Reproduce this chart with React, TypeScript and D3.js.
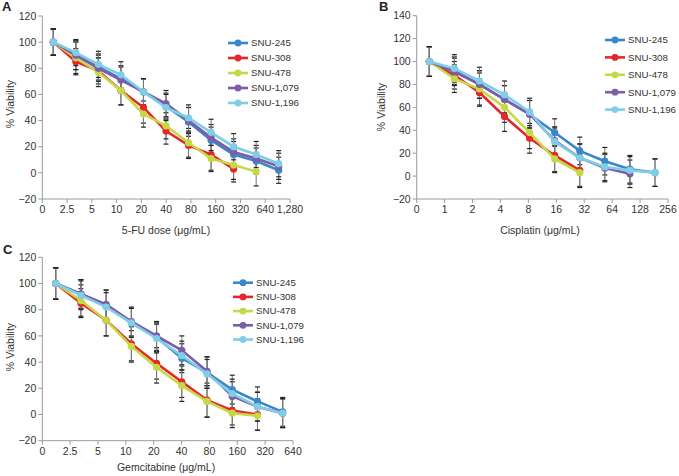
import React from "react";
import * as d3 from "d3";

// ---------- data ----------
const seriesNames = ["SNU-245", "SNU-308", "SNU-478", "SNU-1,079", "SNU-1,196"];
const seriesColors = ["#3b86c6", "#e5272b", "#c6d845", "#7b5ea7", "#7fcde8"];

const xTicksA = ["0", "2.5", "5", "10", "20", "40", "80", "160", "320", "640", "1,280"];
const xTicksB = ["0", "1", "2", "4", "8", "16", "32", "64", "128", "256"];
const xTicksC = ["0", "2.5", "5", "10", "20", "40", "80", "160", "320", "640"];

const yTicksA = [-20, 0, 20, 40, 60, 80, 100, 120];
const yTicksB = [-20, 0, 20, 40, 60, 80, 100, 120, 140];
const yTicksC = [-20, 0, 20, 40, 60, 80, 100, 120];

// Panel A: 5-FU
const A245 = [100, 90, 81, 72, 62, 51, 39, 25, 14, 9, 2];
const A308 = [100, 85, 78, 63, 50, 32, 21, 14, 3];
const A478 = [100, 88, 77, 63, 45, 36, 23, 11, 6, 1];
const A1079 = [100, 90, 80, 71, 62, 53, 40, 27, 16, 11, 5];
const A1196 = [100, 92, 83, 75, 62, 50, 42, 31, 20, 14, 7];
const A245e = [10, 11, 10, 10, 10, 10, 11, 10, 10, 10, 10];
const A308e = [10, 10, 10, 11, 12, 10, 10, 12, 10];
const A478e = [10, 12, 11, 11, 10, 10, 11, 10, 11, 11];
const A1079e = [10, 11, 10, 10, 10, 10, 10, 10, 10, 10, 10];
const A1196e = [10, 10, 10, 10, 10, 10, 10, 10, 10, 10, 10];

// Panel B: Cisplatin
const B245 = [100, 92, 80, 67, 54, 38, 22, 13, 6, 3];
const B308 = [100, 88, 73, 52, 33, 18, 5];
const B478 = [100, 85, 76, 60, 38, 15, 3];
const B1079 = [100, 91, 80, 67, 54, 31, 16, 7, 2];
const B1196 = [100, 94, 83, 71, 56, 30, 16, 8, 5, 3];
const B245e = [13, 12, 12, 12, 12, 12, 12, 12, 12, 12];
const B308e = [13, 12, 12, 13, 13, 14, 14];
const B478e = [13, 12, 14, 13, 14, 12, 13];
const B1079e = [13, 12, 12, 12, 12, 12, 12, 12, 12];
const B1196e = [13, 12, 12, 12, 12, 12, 12, 12, 12, 12];

// Panel C: Gemcitabine
const C245 = [100, 92, 83, 70, 59, 43, 32, 19, 10, 2];
const C308 = [100, 85, 72, 54, 39, 25, 11, 3, 0];
const C478 = [100, 87, 72, 52, 36, 22, 10, 1, -1];
const C1079 = [100, 92, 84, 71, 60, 49, 33, 14, 6, 1];
const C1196 = [100, 91, 82, 70, 58, 45, 31, 16, 6, 1];
const C245e = [12, 11, 12, 11, 11, 11, 12, 11, 11, 11];
const C308e = [12, 11, 12, 13, 12, 12, 13, 11, 12];
const C478e = [12, 12, 12, 12, 12, 12, 12, 11, 11];
const C1079e = [12, 11, 11, 11, 11, 11, 11, 11, 11, 11];
const C1196e = [12, 11, 11, 11, 11, 11, 11, 11, 11, 11];

// ---------- layout ----------
type PanelCfg = {
  letter: string;
  letterX: number;
  letterY: number;
  xTicks: string[];
  yTicks: number[];
  tickRange: [number, number];
  dataRange: [number, number];
  yPx: [number, number]; // px of [yMin, yMax]
  title: string;
  titleX: number;
  titleY: number;
  yTitleX: number;
  yTitleY: number;
  legendX: number;
  legendY: number;
  legendStep: number;
  nPoints: number;
  values: number[][];
  errors: number[][];
};

const FONT = "'Liberation Sans', Arial, Helvetica, sans-serif";
const AXIS = "#9a9a9a";
const FS = 10.5;
const LFS = 9.7;

const panels: PanelCfg[] = [
  {
    letter: "A", letterX: 2, letterY: 11,
    xTicks: xTicksA, yTicks: yTicksA,
    tickRange: [42.3, 290], dataRange: [53.3, 278.7], yPx: [199, 16],
    title: "5-FU dose (\u03bcg/mL)", titleX: 166, titleY: 234,
    yTitleX: 14, yTitleY: 104,
    legendX: 228, legendY: 43, legendStep: 15,
    nPoints: 11,
    values: [A245, A308, A478, A1079, A1196],
    errors: [A245e, A308e, A478e, A1079e, A1196e],
  },
  {
    letter: "B", letterX: 379, letterY: 11,
    xTicks: xTicksB, yTicks: yTicksB,
    tickRange: [416.7, 668], dataRange: [429.3, 655], yPx: [199, 15.7],
    title: "Cisplatin (\u03bcg/mL)", titleX: 540, titleY: 234,
    yTitleX: 385, yTitleY: 107,
    legendX: 605, legendY: 40, legendStep: 17.4,
    nPoints: 10,
    values: [B245, B308, B478, B1079, B1196],
    errors: [B245e, B308e, B478e, B1079e, B1196e],
  },
  {
    letter: "C", letterX: 3, letterY: 254,
    xTicks: xTicksC, yTicks: yTicksC,
    tickRange: [42.3, 293], dataRange: [55.7, 282.7], yPx: [440.7, 257.3],
    title: "Gemcitabine (\u03bcg/mL)", titleX: 166, titleY: 471,
    yTitleX: 14, yTitleY: 347,
    legendX: 233, legendY: 282.7, legendStep: 14.2,
    nPoints: 10,
    values: [C245, C308, C478, C1079, C1196],
    errors: [C245e, C308e, C478e, C1079e, C1196e],
  },
];

function Panel({ p }: { p: PanelCfg }) {
  const yMin = p.yTicks[0];
  const yMax = p.yTicks[p.yTicks.length - 1];
  const y = d3.scaleLinear().domain([yMin, yMax]).range(p.yPx);
  const xt = d3.scalePoint<string>().domain(p.xTicks).range(p.tickRange);
  const xd = d3.scaleLinear().domain([0, p.nPoints - 1]).range(p.dataRange);
  const line = d3
    .line<number>()
    .x((_, i) => xd(i))
    .y((v) => y(v));
  const x0 = p.tickRange[0];
  const x1 = p.tickRange[1];
  const yb = y(yMin);
  return (
    <g fontFamily={FONT}>
      <text x={p.letterX} y={p.letterY} fontSize={13} fontWeight="bold" fill="#222">
        {p.letter}
      </text>
      {/* y axis */}
      <line x1={x0} x2={x0} y1={y(yMax)} y2={yb} stroke={AXIS} strokeWidth={1} />
      {p.yTicks.map((t) => (
        <g key={"y" + t}>
          <line x1={x0 - 4} x2={x0} y1={y(t)} y2={y(t)} stroke={AXIS} />
          <text
            x={x0 - 6}
            y={y(t)}
            dy="0.35em"
            textAnchor="end"
            fontSize={FS}
            fill="#333"
          >
            {t < 0 ? "\u2212" + Math.abs(t) : t}
          </text>
        </g>
      ))}
      {/* x axis */}
      <line x1={x0} x2={x1} y1={yb} y2={yb} stroke={AXIS} strokeWidth={1} />
      {p.xTicks.map((t) => (
        <g key={"x" + t}>
          <line x1={xt(t)!} x2={xt(t)!} y1={yb} y2={yb + 4} stroke={AXIS} />
          <text x={xt(t)!} y={yb + 14} textAnchor="middle" fontSize={FS} fill="#333">
            {t}
          </text>
        </g>
      ))}
      <text x={p.titleX} y={p.titleY} textAnchor="middle" fontSize={FS} fill="#333">
        {p.title}
      </text>
      <text
        transform={`translate(${p.yTitleX},${p.yTitleY}) rotate(-90)`}
        textAnchor="middle"
        fontSize={FS}
        fill="#333"
      >
        % Viability
      </text>
      {/* error bars */}
      {p.values.map((vals, s) =>
        vals.map((v, i) => {
          const e = p.errors[s][i];
          const cx = xd(i);
          return (
            <g key={`e${s}-${i}`}>
              <line x1={cx} x2={cx} y1={y(v - e)} y2={y(v + e)} stroke="#777" strokeWidth={1} />
              <line x1={cx - 2.5} x2={cx + 2.5} y1={y(v + e)} y2={y(v + e)} stroke="#222" strokeWidth={1.2} />
              <line x1={cx - 2.5} x2={cx + 2.5} y1={y(v - e)} y2={y(v - e)} stroke="#222" strokeWidth={1.2} />
            </g>
          );
        })
      )}
      {/* lines */}
      {p.values.map((vals, s) => (
        <g key={"s" + s}>
          <path d={line(vals) || ""} fill="none" stroke={seriesColors[s]} strokeWidth={2.6} />
          {vals.map((v, i) => (
            <circle key={i} cx={xd(i)} cy={y(v)} r={3.6} fill={seriesColors[s]} />
          ))}
        </g>
      ))}
      {/* legend */}
      {seriesNames.map((n, s) => {
        const ly = p.legendY + s * p.legendStep;
        return (
          <g key={"l" + s}>
            <line
              x1={p.legendX}
              x2={p.legendX + 20}
              y1={ly}
              y2={ly}
              stroke={seriesColors[s]}
              strokeWidth={2.6}
            />
            <circle cx={p.legendX + 10} cy={ly} r={3.4} fill={seriesColors[s]} />
            <text x={p.legendX + 23} y={ly} dy="0.35em" fontSize={LFS} fill="#333">
              {n}
            </text>
          </g>
        );
      })}
    </g>
  );
}

export default function App() {
  return (
    <svg
      width={679}
      height={476}
      style={{ position: "absolute", left: 0, top: 0, background: "#fff" }}
    >
      <rect width={679} height={476} fill="#fff" />
      {panels.map((p) => (
        <Panel key={p.letter} p={p} />
      ))}
    </svg>
  );
}
